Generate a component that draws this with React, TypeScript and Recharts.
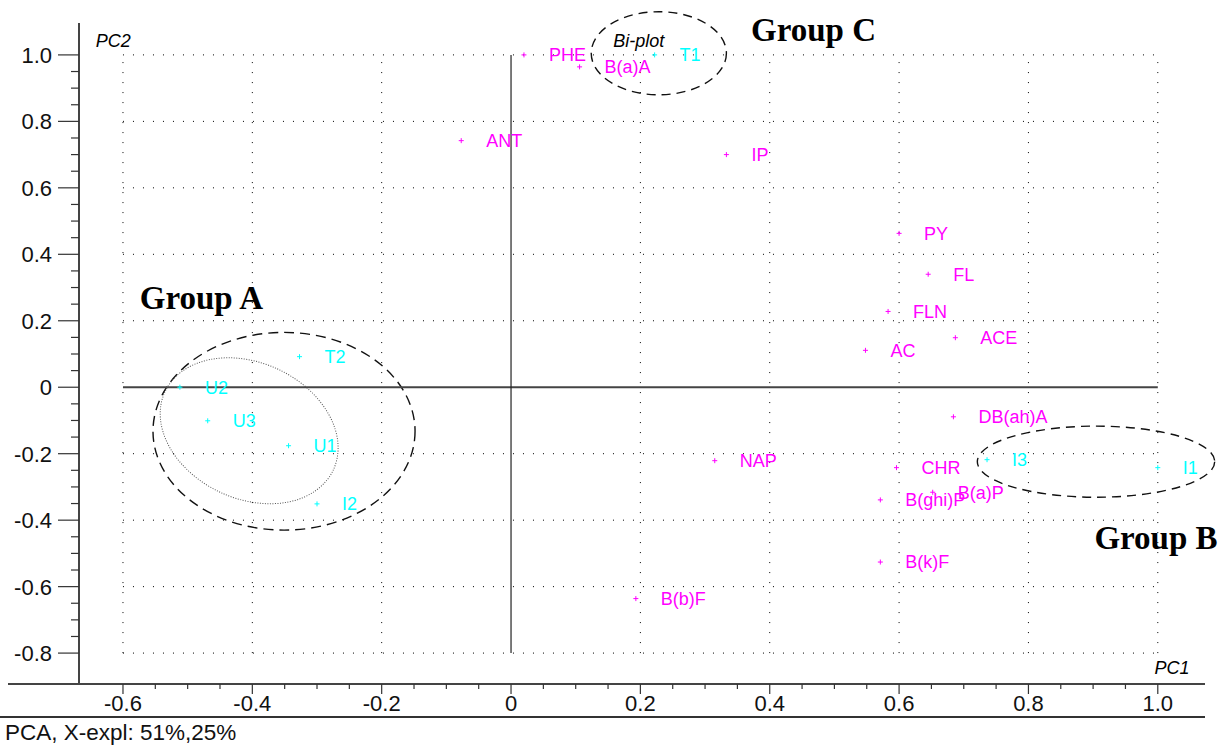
import { ScatterChart, Scatter, XAxis, YAxis, ReferenceLine, ReferenceArea, ReferenceDot } from 'recharts';

// loadings (variables, magenta)
const variableNames = ['PHE', 'B(a)A', 'ANT', 'IP', 'PY', 'FL', 'FLN', 'ACE', 'AC', 'DB(ah)A', 'NAP', 'CHR', 'B(a)P', 'B(ghi)P', 'B(k)F', 'B(b)F'];
const variablePC1 = [0.02, 0.106, -0.077, 0.333, 0.6, 0.645, 0.583, 0.687, 0.548, 0.684, 0.315, 0.596, 0.652, 0.571, 0.571, 0.193];
const variablePC2 = [1.0, 0.964, 0.742, 0.7, 0.463, 0.34, 0.228, 0.149, 0.111, -0.089, -0.221, -0.242, -0.316, -0.339, -0.526, -0.636];

// scores (samples, cyan)
const sampleNames = ['T1', 'T2', 'U2', 'U3', 'U1', 'I2', 'I3', 'I1'];
const samplePC1 = [0.222, -0.327, -0.512, -0.469, -0.344, -0.3, 0.736, 1.0];
const samplePC2 = [1.0, 0.092, 0.0, -0.101, -0.176, -0.351, -0.218, -0.242];

const xMajorTicks = [-0.6, -0.4, -0.2, 0, 0.2, 0.4, 0.6, 0.8, 1.0];
const yMajorTicks = [-0.8, -0.6, -0.4, -0.2, 0, 0.2, 0.4, 0.6, 0.8, 1.0];

const X_DOMAIN = [-0.668, 1.073];
const Y_DOMAIN = [-0.893, 1.096];

const SANS = '"Liberation Sans", Arial, Helvetica, sans-serif';
const SERIF = '"Liberation Serif", "Times New Roman", serif';
const MAGENTA = '#ff00ff';
const CYAN = '#00ffff';

const variables = variableNames.map((name, i) => ({ name, x: variablePC1[i], y: variablePC2[i] }));
const samples = sampleNames.map((name, i) => ({ name, x: samplePC1[i], y: samplePC2[i] }));

function withMinor(major: number[]) {
  const out: number[] = [];
  major.forEach((v, i) => {
    out.push(v);
    if (i < major.length - 1) {
      for (let k = 1; k < 4; k++) out.push(+(v + k * 0.05).toFixed(2));
    }
  });
  return out;
}

const isMajor = (v: number) => Math.abs(v * 5 - Math.round(v * 5)) < 1e-6;
const fmt = (v: number) => (Math.abs(v) < 1e-9 ? '0' : v.toFixed(1));

// annotation ellipses, in data units
const ellipses = [
  { key: 'A', cx: -0.351, cy: -0.1325, rx: 0.2026, ry: 0.2975, dash: '10 6', width: 1.4, rotate: 0 },
  { key: 'A2', cx: -0.4049, cy: -0.131, rx: 0.1435, ry: 0.2046, dash: '1 1.5', width: 1, rotate: 24.8 },
  { key: 'B', cx: 0.9045, cy: -0.224, rx: 0.1835, ry: 0.107, dash: '9 6', width: 1.4, rotate: 0 },
  { key: 'C', cx: 0.2285, cy: 1.005, rx: 0.1045, ry: 0.125, dash: '9 6', width: 1.4, rotate: 0 },
];

const notes = [
  { text: 'Group A', x: -0.574, y: 0.27, bold: true },
  { text: 'Group B', x: 0.902, y: -0.453, bold: true },
  { text: 'Group C', x: 0.371, y: 1.076, bold: true },
  { text: 'Bi-plot', x: 0.158, y: 1.044, bold: false },
  { text: 'PC2', x: -0.642, y: 1.042, bold: false },
  { text: 'PC1', x: 0.995, y: -0.845, bold: false },
];

const XTick = (props: any) => {
  const { x, y, payload } = props;
  const v = payload.value;
  const major = isMajor(v);
  return (
    <g>
      <line x1={x} y1={y} x2={x} y2={y + (major ? 10 : 5)} stroke="#333" strokeWidth={1.2} />
      {major && (
        <text x={x} y={y + 27} textAnchor="middle" fontSize={22} fontFamily={SANS} fill="#111">
          {fmt(v)}
        </text>
      )}
    </g>
  );
};

const YTick = (props: any) => {
  const { x, y, payload } = props;
  const v = payload.value;
  const major = isMajor(v);
  return (
    <g>
      <line x1={x - (major ? 21 : 8)} y1={y} x2={x} y2={y} stroke="#333" strokeWidth={1.2} />
      {major && (
        <text x={x - 27} y={y + 8} textAnchor="end" fontSize={22} fontFamily={SANS} fill="#111">
          {fmt(v)}
        </text>
      )}
    </g>
  );
};

const pointShape = (color: string) => (props: any) => {
  const { cx, cy, payload } = props;
  return (
    <g>
      <line x1={cx - 2.5} y1={cy} x2={cx + 2.5} y2={cy} stroke={color} strokeWidth={1} />
      <line x1={cx} y1={cy - 2.5} x2={cx} y2={cy + 2.5} stroke={color} strokeWidth={1} />
      <text x={cx + 25} y={cy + 6.3} fontSize={18} fontFamily={SANS} fill={color}>
        {payload.name}
      </text>
    </g>
  );
};

export default function App() {
  const xTicks = withMinor(xMajorTicks);
  const yTicks = withMinor(yMajorTicks);
  const gridX = xMajorTicks.filter(v => v !== 0);
  const gridY = yMajorTicks.filter(v => v !== 0);

  return (
    <div style={{ position: 'absolute', left: 0, top: 0, width: 1229, height: 746, background: '#fff' }}>
      <ScatterChart width={1229} height={746} margin={{ top: 23, right: 24, bottom: 0, left: 0 }}>
        <XAxis
          type="number"
          dataKey="x"
          domain={X_DOMAIN}
          allowDataOverflow
          ticks={xTicks}
          interval={0}
          height={62}
          tickSize={0}
          tickMargin={0}
          tickLine={false}
          tick={<XTick />}
          axisLine={{ stroke: '#444', strokeWidth: 2 }}
        />
        <YAxis
          type="number"
          dataKey="y"
          domain={Y_DOMAIN}
          allowDataOverflow
          ticks={yTicks}
          interval={0}
          width={79}
          tickSize={0}
          tickMargin={0}
          tickLine={false}
          tick={<YTick />}
          axisLine={{ stroke: '#444', strokeWidth: 2 }}
        />

        {gridY.map(v => (
          <ReferenceLine
            key={`gy${v}`}
            segment={[{ x: -0.6, y: v }, { x: 1.0, y: v }]}
            stroke="#000"
            strokeWidth={1}
            strokeDasharray="1 9"
            ifOverflow="visible"
          />
        ))}
        {gridX.map(v => (
          <ReferenceLine
            key={`gx${v}`}
            segment={[{ x: v, y: -0.8 }, { x: v, y: 1.0 }]}
            stroke="#000"
            strokeWidth={1}
            strokeDasharray="1 9"
            ifOverflow="visible"
          />
        ))}
        <ReferenceLine segment={[{ x: -0.6, y: 0 }, { x: 1.0, y: 0 }]} stroke="#444" strokeWidth={2} ifOverflow="visible" />
        <ReferenceLine segment={[{ x: 0, y: -0.8 }, { x: 0, y: 1.0 }]} stroke="#222" strokeWidth={1.2} ifOverflow="visible" />

        {ellipses.map(e => (
          <ReferenceArea
            key={e.key}
            x1={e.cx - e.rx}
            x2={e.cx + e.rx}
            y1={e.cy - e.ry}
            y2={e.cy + e.ry}
            ifOverflow="visible"
            shape={(p: any) => {
              const w = Math.abs(p.width);
              const h = Math.abs(p.height);
              const left = p.width < 0 ? p.x + p.width : p.x;
              const top = p.height < 0 ? p.y + p.height : p.y;
              const cx = left + w / 2;
              const cy = top + h / 2;
              return (
                <ellipse
                  cx={cx}
                  cy={cy}
                  rx={w / 2}
                  ry={h / 2}
                  fill="none"
                  stroke={e.key === 'A2' ? '#555' : '#111'}
                  strokeWidth={e.width}
                  strokeDasharray={e.dash}
                  transform={e.rotate ? `rotate(${e.rotate} ${cx} ${cy})` : undefined}
                />
              );
            }}
          />
        ))}

        {notes.map(n => (
          <ReferenceDot
            key={n.text}
            x={n.x}
            y={n.y}
            ifOverflow="visible"
            shape={(p: any) => (
              <text
                x={p.cx}
                y={p.cy + (n.bold ? 11 : 6.3)}
                fontSize={n.bold ? 33 : 18}
                fontWeight={n.bold ? 'bold' : 'normal'}
                fontStyle={n.bold ? 'normal' : 'italic'}
                fontFamily={n.bold ? SERIF : SANS}
                fill="#000"
              >
                {n.text}
              </text>
            )}
          />
        ))}

        <Scatter name="variables" data={variables} isAnimationActive={false} shape={pointShape(MAGENTA)} />
        <Scatter name="samples" data={samples} isAnimationActive={false} shape={pointShape(CYAN)} />
      </ScatterChart>

      <div style={{ position: 'absolute', left: 8, top: 683, width: 72, height: 2, background: '#444' }} />
      <div style={{ position: 'absolute', left: 0, top: 716, width: 1205, height: 2, background: '#333' }} />
      <div
        style={{
          position: 'absolute',
          left: 5,
          top: 721,
          fontFamily: SANS,
          fontSize: 22.5,
          color: '#111',
          lineHeight: '24px',
          whiteSpace: 'nowrap',
        }}
      >
        PCA, X-expl: 51%,25%
      </div>
    </div>
  );
}
